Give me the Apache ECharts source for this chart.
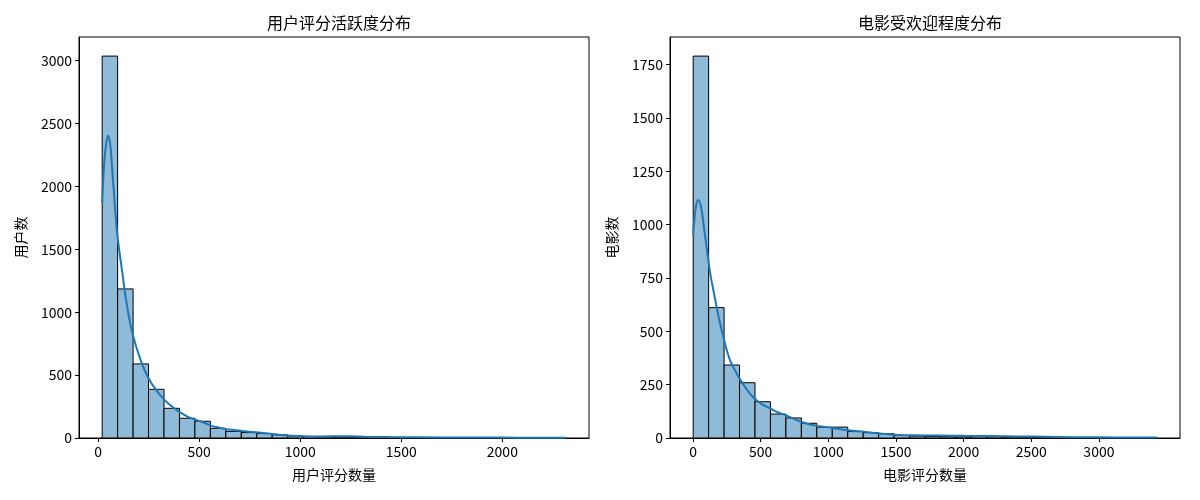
<!DOCTYPE html>
<html>
<head>
<meta charset="utf-8">
<script src="https://cdn.jsdelivr.net/npm/echarts@6/dist/echarts.min.js"></script>
<style>html,body{margin:0;padding:0;background:#fff;}#c{width:1200px;height:500px;}</style>
</head>
<body>
<div id="c"></div>
<script>
// ---- Data ----
const userBinMin = 20, userBinMax = 2314, userBinCount = 30;
const userCounts = [3036, 1185, 589, 387, 236, 157, 133, 77, 53, 43, 35, 25, 16, 12, 10, 8, 7, 9, 5, 4, 3, 2, 2, 1, 1, 1, 1, 0, 1, 1];
const userKdeX = [20, 30, 40, 50, 60, 71, 85, 96, 120, 140, 170, 210, 249, 290, 327, 365, 404, 442, 480, 520, 558, 600, 632, 680, 714, 780, 830, 890, 937, 1011, 1110, 1200, 1243, 1320, 1440, 1600, 1800, 2000, 2150, 2314];
const userKdeY = [1867, 2185, 2340, 2405, 2330, 2106, 1800, 1601, 1310, 1080, 830, 620, 475, 375, 305, 250, 205, 170, 145, 125, 98, 82, 70, 62, 56, 45, 37, 27, 20, 14, 12, 14, 13, 10, 7, 5, 4, 3, 2, 2];
const userTicksX = [0, 500, 1000, 1500, 2000];
const userTicksY = [0, 500, 1000, 1500, 2000, 2500, 3000];

const movieBinMin = 1, movieBinMax = 3428, movieBinCount = 30;
const movieCounts = [1790, 611, 342, 259, 170, 112, 94, 69, 51, 51, 30, 25, 20, 12, 9, 7, 6, 5, 8, 6, 4, 4, 3, 3, 2, 2, 1, 1, 1, 1];
const movieKdeX = [1, 20, 39, 60, 80, 106, 130, 155, 185, 217, 270, 336, 400, 452, 510, 568, 620, 681, 740, 797, 850, 908, 1019, 1130, 1249, 1364, 1481, 1600, 1710, 1822, 2000, 2200, 2400, 2600, 2800, 3000, 3200, 3428];
const movieKdeY = [952, 1080, 1116, 1080, 990, 866, 760, 678, 580, 491, 370, 287, 225, 186, 158, 140, 122, 108, 91, 76, 66, 58, 48, 37, 30, 22, 15, 13, 12, 12, 10, 9, 7, 6, 4, 3, 2, 2];
const movieTicksX = [0, 500, 1000, 1500, 2000, 2500, 3000];
const movieTicksY = [0, 250, 500, 750, 1000, 1250, 1500, 1750];

const titles = ['用户评分活跃度分布', '电影受欢迎程度分布'];
const xNames = ['用户评分数量', '电影评分数量'];
const yNames = ['用户数', '电影数'];

// ---- Build ----
const FONT = '"Noto Sans CJK SC", "Noto Sans", sans-serif';
function bins(min, max, n, counts) {
  const w = (max - min) / n;
  return counts.map((c, i) => [min + i * w, min + (i + 1) * w, c]);
}
function zip(a, b) { return a.map((v, i) => [v, b[i]]); }

const userBins = bins(userBinMin, userBinMax, userBinCount, userCounts);
const movieBins = bins(movieBinMin, movieBinMax, movieBinCount, movieCounts);

function renderBar(params, api) {
  const h = api.value(2);
  if (!h) return null;
  const p0 = api.coord([api.value(0), h]);
  const p1 = api.coord([api.value(1), 0]);
  return {
    type: 'rect',
    shape: { x: p0[0], y: p0[1], width: p1[0] - p0[0], height: p1[1] - p0[1] },
    style: { fill: '#8fbbd9', stroke: '#000', lineWidth: 1 }
  };
}

const grids = [
  { left: 79, top: 37, width: 510, height: 401 },
  { left: 670, top: 37, width: 510, height: 401 }
];
function pad(min, max) { const r = max - min; return [min - 0.05 * r, max + 0.05 * r]; }
const ux = pad(userBinMin, userBinMax), mx = pad(movieBinMin, movieBinMax);
const uyMax = Math.max(...userCounts) * 1.05, myMax = Math.max(...movieCounts) * 1.05;

const axisCommon = {
  axisLine: { show: true, onZero: false, lineStyle: { color: '#000', width: 1 } },
  axisTick: { show: true, inside: false, length: 4, lineStyle: { color: '#000', width: 1 } },
  splitLine: { show: false },
  nameTextStyle: { color: '#000', fontSize: 14, fontFamily: FONT },
  axisLabel: { color: '#000', fontSize: 14, fontFamily: FONT, margin: 7, formatter: v => String(v) }
};
function xAxis(i, range, ticks, name) {
  return Object.assign({}, axisCommon, {
    type: 'value', gridIndex: i, min: range[0], max: range[1],
    name: name, nameLocation: 'middle', nameGap: 30,
    axisTick: Object.assign({}, axisCommon.axisTick, { customValues: ticks }),
    axisLabel: Object.assign({}, axisCommon.axisLabel, { customValues: ticks })
  });
}
function yAxis(i, max, ticks, name) {
  return Object.assign({}, axisCommon, {
    type: 'value', gridIndex: i, min: 0, max: max,
    name: name, nameLocation: 'middle', nameGap: 51, nameRotate: 90,
    axisTick: Object.assign({}, axisCommon.axisTick, { customValues: ticks }),
    axisLabel: Object.assign({}, axisCommon.axisLabel, { customValues: ticks })
  });
}

const option = {
  backgroundColor: '#fff',
  animation: false,
  title: [
    { text: titles[0], left: 334, top: 10, textAlign: 'center', textStyle: { fontSize: 16, fontWeight: 'normal', color: '#000', fontFamily: FONT } },
    { text: titles[1], left: 925, top: 10, textAlign: 'center', textStyle: { fontSize: 16, fontWeight: 'normal', color: '#000', fontFamily: FONT } }
  ],
  grid: grids.map(g => Object.assign({ show: true, borderColor: '#000', borderWidth: 1, backgroundColor: 'transparent' }, g)),
  xAxis: [xAxis(0, ux, userTicksX, xNames[0]), xAxis(1, mx, movieTicksX, xNames[1])],
  yAxis: [yAxis(0, uyMax, userTicksY, yNames[0]), yAxis(1, myMax, movieTicksY, yNames[1])],
  series: [
    { type: 'custom', xAxisIndex: 0, yAxisIndex: 0, renderItem: renderBar, data: userBins, encode: { x: [0, 1], y: 2 }, z: 2 },
    { type: 'line', xAxisIndex: 0, yAxisIndex: 0, data: zip(userKdeX, userKdeY), smooth: 0.4, showSymbol: false, lineStyle: { color: '#1f77b4', width: 2 }, z: 3 },
    { type: 'custom', xAxisIndex: 1, yAxisIndex: 1, renderItem: renderBar, data: movieBins, encode: { x: [0, 1], y: 2 }, z: 2 },
    { type: 'line', xAxisIndex: 1, yAxisIndex: 1, data: zip(movieKdeX, movieKdeY), smooth: 0.4, showSymbol: false, lineStyle: { color: '#1f77b4', width: 2 }, z: 3 }
  ]
};
const chart = echarts.init(document.getElementById('c'), null, { renderer: 'canvas' });
chart.setOption(option);
</script>
</body>
</html>
